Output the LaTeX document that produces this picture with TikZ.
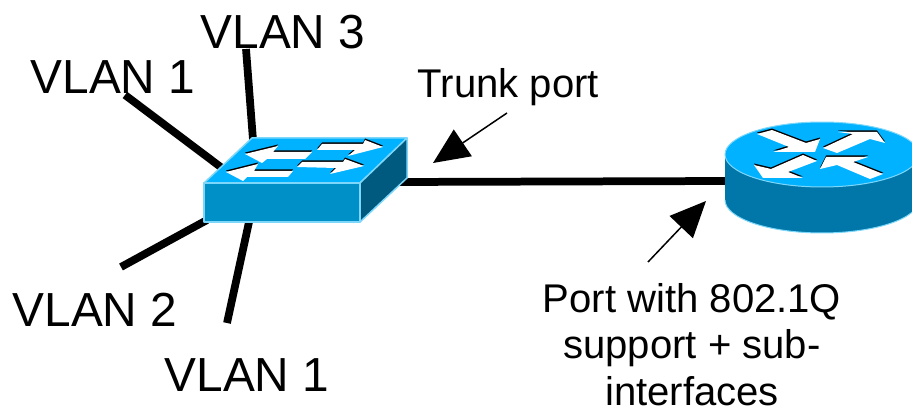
\documentclass[tikz,border=0pt]{standalone}
\usepackage{fontspec}
\setmainfont{Liberation Sans}
\usetikzlibrary{shapes.geometric,arrows.meta}
\definecolor{topblue}{RGB}{0,178,255}
\definecolor{frontblue}{RGB}{0,144,200}
\definecolor{sideblue}{RGB}{0,90,128}
\definecolor{bodyblue}{RGB}{0,119,168}
\definecolor{edgeblue}{RGB}{125,215,250}
\newcommand{\iconArrow}[1]{%
  \fill[black,yshift=0.03cm] #1 -- cycle;
  \fill[white] #1 -- cycle;}

\begin{document}
\begin{tikzpicture}
  [x=0.02cm,y=-0.02cm,
   vlanL/.style={line width=0.155cm},
   noteA/.style={line width=0.03cm,-{Triangle[length=0.72cm,width=0.64cm]}},
   bigT/.style={font=\fontsize{27.2}{30}\selectfont,inner sep=0},
   noteT/.style={font=\fontsize{22.8}{26.6}\selectfont,inner sep=0,align=center},
   faceN/.style={draw=edgeblue,line width=0.03cm,line join=round},
   rtrN/.style={ellipse,fill=topblue,draw=edgeblue,line width=0.02cm,inner sep=0,
                minimum width=3.88cm,minimum height=1.3cm},
  ]
 \clip (0,0) rectangle (912,408);

 % free ends and port ends of the cables
 \coordinate (v3a) at (246,49);
 \coordinate (v3b) at (253,140);
 \coordinate (v1a) at (125,95);
 \coordinate (v1b) at (222,168);
 \coordinate (v2a) at (121,267);
 \coordinate (v2b) at (207,220);
 \coordinate (v4a) at (227,323);
 \coordinate (v4b) at (249,222);
 \coordinate (swP) at (398,182);
 \coordinate (rtP) at (727,181);

 \draw[vlanL] (v3a) -- (v3b);
 \draw[vlanL] (v1a) -- (v1b);
 \draw[vlanL] (v2a) -- (v2b);
 \draw[vlanL] (v4a) -- (v4b);
 \draw[vlanL] (swP) -- (rtP);

 % switch
 \filldraw[faceN,fill=topblue]   (204,183) -- (252,138) -- (407,138) -- (360,183) -- cycle;
 \filldraw[faceN,fill=frontblue] (204,183) rectangle (360,222);
 \filldraw[faceN,fill=sideblue]  (360,183) -- (407,138) -- (407,178) -- (360,222) -- cycle;
 \iconArrow{(245,154) -- (278,146) -- (273,152) -- (312,152) -- (305,159) -- (267,159) -- (262,163)}
 \iconArrow{(317,150) -- (322,144) -- (363,144) -- (365,140) -- (383,147) -- (348,156) -- (355,150)}
 \iconArrow{(226,172) -- (258,164) -- (254,171) -- (293,171) -- (288,177) -- (247,177) -- (243,181)}
 \iconArrow{(297,167) -- (302,162) -- (343,162) -- (345,159) -- (364,166) -- (330,174) -- (336,168)}

 % router
 \fill[bodyblue] (725,154) -- (725,200) arc[start angle=180,end angle=360,x radius=1.94cm,y radius=0.66cm] -- (919,154) -- cycle;
 \draw[edgeblue,line width=0.02cm] (725,200) arc[start angle=180,end angle=360,x radius=1.94cm,y radius=0.66cm];
 \node[rtrN] (rtr) at (822,154.5) {};
 \iconArrow{(757,134) -- (772,130) -- (806,143) -- (820,139) -- (815,152) -- (773,152) -- (789,147)}
 \iconArrow{(823,148) -- (853,134) -- (838,132) -- (877,132) -- (885,143) -- (870,139) -- (837,153)}
 \iconArrow{(754,165) -- (771,169) -- (803,155) -- (817,161) -- (788,172) -- (803,178) -- (763,178)}
 \iconArrow{(820,169) -- (826,157) -- (868,157) -- (853,162) -- (883,174) -- (870,179) -- (837,165)}

 % labels
 \node[bigT] (vlan3) at (283,32)  {VLAN 3};
 \node[bigT] (vlan1) at (113,77)  {VLAN 1};
 \node[bigT] (vlan2) at (95,310)  {VLAN 2};
 \node[bigT] (vlan4) at (247,375) {VLAN 1};
 \node[noteT] (trunk) at (508.5,87) {Trunk port};
 \node[noteT] (port) at (692,344.5) {Port with 802.1Q\\support + sub-\\interfaces};

 % pointers
 \coordinate (trA) at (507,113);
 \coordinate (trB) at (433,163);
 \coordinate (ptA) at (648,262);
 \coordinate (ptB) at (706,201);
 \draw[noteA] (trA) -- (trB);
 \draw[noteA] (ptA) -- (ptB);

\end{tikzpicture}
\end{document}
